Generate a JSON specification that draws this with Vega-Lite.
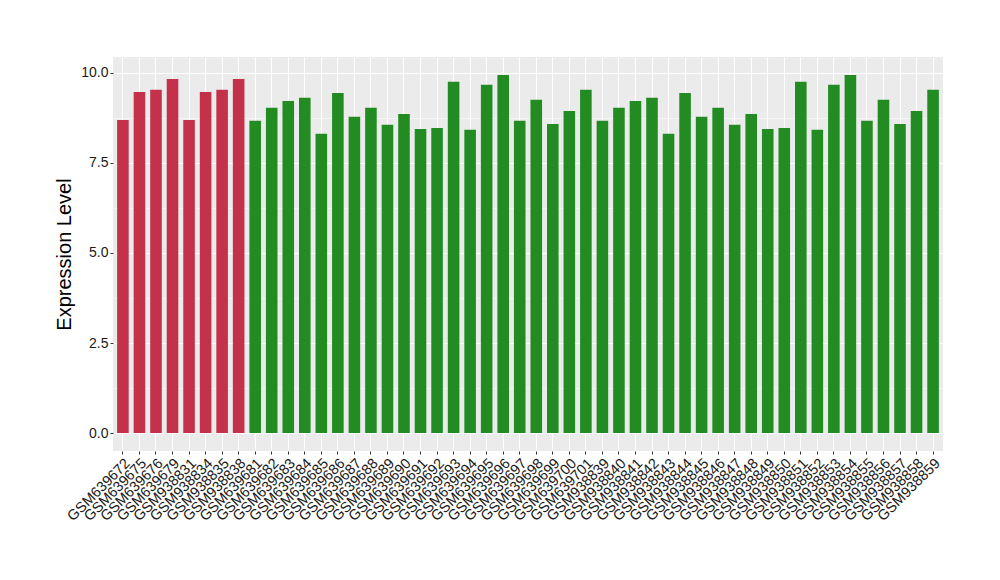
{
  "$schema": "https://vega.github.io/schema/vega-lite/v6.json",
  "autosize": "none",
  "width": 830,
  "height": 394,
  "padding": {"left": 113, "top": 57, "right": 57, "bottom": 129},
  "background": "white",
  "config": {
    "view": {"fill": "#EBEBEB", "stroke": null},
    "font": "Liberation Sans"
  },
  "data": {
    "values": [
      {"sample": "GSM639672", "value": 8.69, "group": "a"},
      {"sample": "GSM639675", "value": 9.47, "group": "a"},
      {"sample": "GSM639676", "value": 9.53, "group": "a"},
      {"sample": "GSM639679", "value": 9.83, "group": "a"},
      {"sample": "GSM938831", "value": 8.69, "group": "a"},
      {"sample": "GSM938834", "value": 9.47, "group": "a"},
      {"sample": "GSM938835", "value": 9.53, "group": "a"},
      {"sample": "GSM938838", "value": 9.83, "group": "a"},
      {"sample": "GSM639681", "value": 8.67, "group": "b"},
      {"sample": "GSM639682", "value": 9.03, "group": "b"},
      {"sample": "GSM639683", "value": 9.22, "group": "b"},
      {"sample": "GSM639684", "value": 9.31, "group": "b"},
      {"sample": "GSM639685", "value": 8.31, "group": "b"},
      {"sample": "GSM639686", "value": 9.44, "group": "b"},
      {"sample": "GSM639687", "value": 8.78, "group": "b"},
      {"sample": "GSM639688", "value": 9.03, "group": "b"},
      {"sample": "GSM639689", "value": 8.56, "group": "b"},
      {"sample": "GSM639690", "value": 8.86, "group": "b"},
      {"sample": "GSM639691", "value": 8.44, "group": "b"},
      {"sample": "GSM639692", "value": 8.47, "group": "b"},
      {"sample": "GSM639693", "value": 9.75, "group": "b"},
      {"sample": "GSM639694", "value": 8.42, "group": "b"},
      {"sample": "GSM639695", "value": 9.67, "group": "b"},
      {"sample": "GSM639696", "value": 9.94, "group": "b"},
      {"sample": "GSM639697", "value": 8.67, "group": "b"},
      {"sample": "GSM639698", "value": 9.25, "group": "b"},
      {"sample": "GSM639699", "value": 8.58, "group": "b"},
      {"sample": "GSM639700", "value": 8.94, "group": "b"},
      {"sample": "GSM639701", "value": 9.53, "group": "b"},
      {"sample": "GSM938839", "value": 8.67, "group": "b"},
      {"sample": "GSM938840", "value": 9.03, "group": "b"},
      {"sample": "GSM938841", "value": 9.22, "group": "b"},
      {"sample": "GSM938842", "value": 9.31, "group": "b"},
      {"sample": "GSM938843", "value": 8.31, "group": "b"},
      {"sample": "GSM938844", "value": 9.44, "group": "b"},
      {"sample": "GSM938845", "value": 8.78, "group": "b"},
      {"sample": "GSM938846", "value": 9.03, "group": "b"},
      {"sample": "GSM938847", "value": 8.56, "group": "b"},
      {"sample": "GSM938848", "value": 8.86, "group": "b"},
      {"sample": "GSM938849", "value": 8.44, "group": "b"},
      {"sample": "GSM938850", "value": 8.47, "group": "b"},
      {"sample": "GSM938851", "value": 9.75, "group": "b"},
      {"sample": "GSM938852", "value": 8.42, "group": "b"},
      {"sample": "GSM938853", "value": 9.67, "group": "b"},
      {"sample": "GSM938854", "value": 9.94, "group": "b"},
      {"sample": "GSM938855", "value": 8.67, "group": "b"},
      {"sample": "GSM938856", "value": 9.25, "group": "b"},
      {"sample": "GSM938857", "value": 8.58, "group": "b"},
      {"sample": "GSM938858", "value": 8.94, "group": "b"},
      {"sample": "GSM938859", "value": 9.53, "group": "b"}
    ]
  },
  "mark": {"type": "bar"},
  "encoding": {
    "x": {
      "field": "sample",
      "type": "nominal",
      "sort": null,
      "scale": {"paddingInner": 0.3, "paddingOuter": 0.25},
      "axis": {
        "title": null,
        "labelAngle": -45,
        "labelAlign": "right",
        "labelBaseline": "top",
        "labelFontSize": 14.5,
        "labelColor": "#1a1a1a",
        "labelPadding": 2,
        "labelOverlap": false,
        "labelLimit": 0,
        "tickSize": 3,
        "tickColor": "#333333",
        "domain": false,
        "grid": true,
        "gridColor": "white",
        "gridWidth": 1.1,
        "bandPosition": 0.5
      }
    },
    "y": {
      "field": "value",
      "type": "quantitative",
      "scale": {"domain": [-0.497, 10.44], "nice": false, "zero": false},
      "axis": {
        "title": "Expression Level",
        "titleFontSize": 20,
        "titleFontWeight": "normal",
        "titleColor": "black",
        "titlePadding": 6,
        "values": [0, 1.25, 2.5, 3.75, 5, 6.25, 7.5, 8.75, 10],
        "labelExpr": "datum.value % 2.5 === 0 ? format(datum.value, '.1f') : ''",
        "labelFontSize": 14,
        "labelColor": "#1a1a1a",
        "labelPadding": 2,
        "tickSize": {"condition": {"test": "datum.value % 2.5 === 0", "value": 3}, "value": 0},
        "tickColor": "#333333",
        "domain": false,
        "grid": true,
        "gridColor": "white",
        "gridWidth": {"condition": {"test": "datum.value % 2.5 === 0", "value": 1.1}, "value": 0.5}
      }
    },
    "y2": {"datum": 0},
    "color": {
      "field": "group",
      "type": "nominal",
      "scale": {"domain": ["a", "b"], "range": ["#C3314A", "#228B22"]},
      "legend": null
    }
  }
}
